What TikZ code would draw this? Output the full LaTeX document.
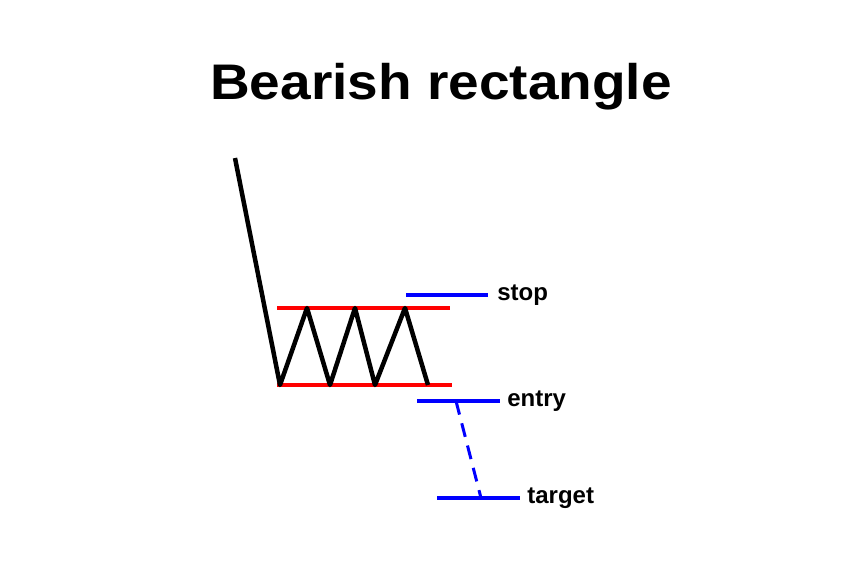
\documentclass[tikz,border=0pt]{standalone}
\usepackage{fontspec}
\setmainfont{Liberation Sans}
\begin{document}
\begin{tikzpicture}[x=1pt,y=-1pt,
  blk/.style={line width=4.5pt,black,line join=round},
  redl/.style={line width=4pt,red},
  bluel/.style={line width=4pt,blue},
  lbl/.style={anchor=west,text=black,font=\bfseries\fontsize{24}{26}\selectfont}]
\useasboundingbox (0,0) rectangle (856,566);
\node[font=\bfseries\fontsize{50}{54}\selectfont,xscale=1.1] (title) at (441,87) {Bearish rectangle};
\draw[redl] (277,308) -- (450,308);
\draw[redl] (277,385) -- (452,385);
\coordinate (p0) at (235,158);
\draw[blk] (p0) -- (280,385) -- (307,308) -- (330,385) -- (355,308) -- (375,385) -- (405,308) -- (428,385);
\draw[bluel] (406,295) -- (488,295) node[lbl,xshift=4pt] (stop) {stop};
\draw[bluel] (417,401) -- (500,401) node[lbl,xshift=2pt] (entry) {entry};
\draw[bluel] (437,498) -- (520,498) node[lbl,xshift=2pt] (target) {target};
\coordinate (d1) at (456,401);
\coordinate (d2) at (481,498);
\draw[bluel,line width=3pt,dash pattern=on 14pt off 9pt] (d1) -- (d2);
\end{tikzpicture}
\end{document}
